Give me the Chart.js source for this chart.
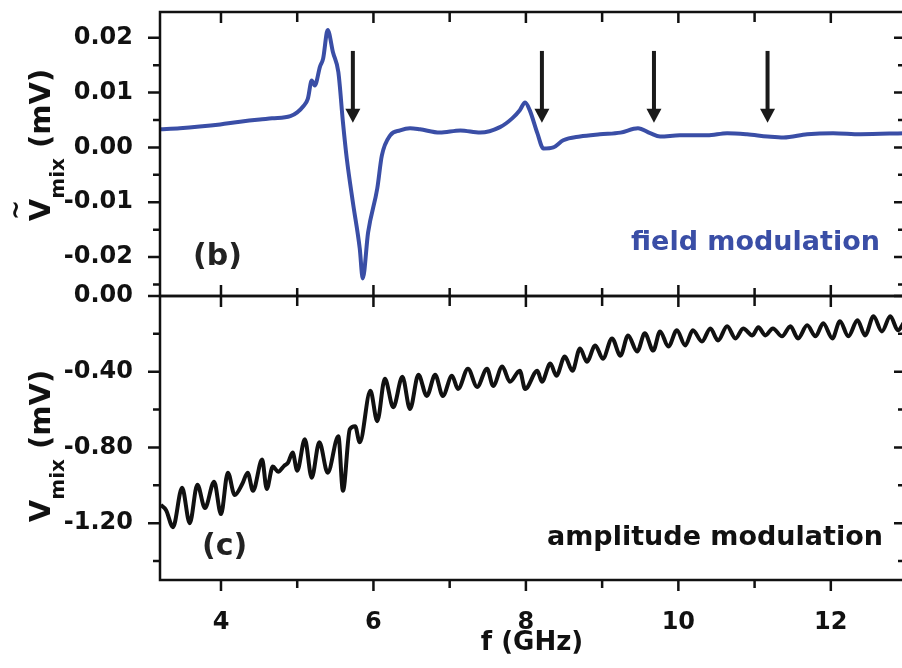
<!DOCTYPE html>
<html>
<head>
<meta charset="utf-8">
<script src="https://cdn.jsdelivr.net/npm/chart.js@4.4.0/dist/chart.umd.min.js"></script>
<style>
  html, body { margin: 0; padding: 0; background: #fff; overflow: hidden; width: 902px; height: 668px; }
  canvas { position: absolute; left: 0; }
  #chart-field { top: 0; }
  #chart-amp { top: 270px; }
</style>
</head>
<body>
<canvas id="chart-field" width="904" height="300"></canvas>
<canvas id="chart-amp" width="904" height="398"></canvas>
<script>
// ---------- data ----------
// (b) field modulation
const fieldF = [3.20, 3.46, 3.72, 3.99, 4.25, 4.51, 4.67, 4.91, 5.00, 5.08, 5.14, 5.19, 5.23, 5.30, 5.34, 5.40,
  5.47, 5.54, 5.60, 5.65, 5.73, 5.82, 5.86, 5.93, 6.05, 6.11, 6.22, 6.35, 6.48, 6.61, 6.87, 7.14, 7.40, 7.66,
  7.82, 7.92, 7.99, 8.05, 8.15, 8.23, 8.36, 8.49, 8.71, 8.97, 9.24, 9.47, 9.63, 9.76, 10.02, 10.38, 10.64,
  10.90, 11.17, 11.38, 11.69, 12.03, 12.39, 12.96];
const fieldV = [0.0033, 0.0035, 0.0038, 0.0042, 0.0047, 0.0051, 0.0053, 0.0057, 0.0064, 0.0075, 0.0089, 0.0122,
  0.0113, 0.0148, 0.0162, 0.0214, 0.0173, 0.0137, 0.0046, -0.0020, -0.0100, -0.0184, -0.0239, -0.0155, -0.0075,
  -0.0015, 0.0022, 0.0031, 0.0035, 0.0033, 0.0027, 0.0031, 0.0027, 0.0037, 0.0053, 0.0068, 0.0082, 0.0068,
  0.0026, -0.0002, 0.0000, 0.0013, 0.0020, 0.0024, 0.0027, 0.0035, 0.0026, 0.0020, 0.0022, 0.0022, 0.0026,
  0.0024, 0.0020, 0.0018, 0.0024, 0.0026, 0.0024, 0.0026];
// arrows marking the modes (GHz)
const arrowF = [5.73, 8.21, 9.68, 11.17];

// (c) amplitude modulation
const ampF = [3.21, 3.28, 3.37, 3.49, 3.59, 3.69, 3.79, 3.91, 4.00, 4.09, 4.18, 4.28, 4.35, 4.42, 4.54, 4.60,
  4.68, 4.75, 4.83, 4.88, 4.94, 5.00, 5.10, 5.19, 5.29, 5.40, 5.54, 5.60, 5.69, 5.76, 5.82, 5.96, 6.05, 6.15,
  6.26, 6.38, 6.48, 6.59, 6.70, 6.81, 6.91, 7.03, 7.11, 7.24, 7.36, 7.49, 7.57, 7.69, 7.79, 7.92, 7.99, 8.15,
  8.21, 8.32, 8.40, 8.51, 8.61, 8.71, 8.80, 8.91, 9.01, 9.13, 9.24, 9.34, 9.46, 9.56, 9.67, 9.76, 9.87, 9.98,
  10.09, 10.19, 10.31, 10.42, 10.52, 10.64, 10.75, 10.85, 10.97, 11.05, 11.14, 11.24, 11.36, 11.47, 11.57,
  11.69, 11.80, 11.90, 12.02, 12.12, 12.23, 12.35, 12.45, 12.56, 12.67, 12.78, 12.88, 12.96];
const ampV = [-1.104, -1.131, -1.221, -1.013, -1.200, -0.997, -1.120, -0.981, -1.152, -0.933, -1.051, -0.992,
  -0.933, -1.029, -0.864, -1.019, -0.901, -0.928, -0.896, -0.880, -0.827, -0.923, -0.757, -0.960, -0.773,
  -0.933, -0.741, -1.029, -0.704, -0.688, -0.773, -0.501, -0.661, -0.437, -0.587, -0.427, -0.597, -0.416,
  -0.528, -0.416, -0.528, -0.421, -0.491, -0.384, -0.480, -0.384, -0.475, -0.373, -0.453, -0.395, -0.491,
  -0.395, -0.453, -0.357, -0.421, -0.320, -0.395, -0.277, -0.347, -0.261, -0.331, -0.224, -0.315, -0.208,
  -0.293, -0.197, -0.288, -0.187, -0.267, -0.181, -0.261, -0.181, -0.240, -0.171, -0.235, -0.160, -0.224,
  -0.171, -0.208, -0.165, -0.208, -0.171, -0.213, -0.160, -0.224, -0.155, -0.213, -0.144, -0.224, -0.133,
  -0.213, -0.128, -0.208, -0.107, -0.187, -0.107, -0.181, -0.140];

// ticks
const xMajor = [4, 6, 8, 10, 12];
const xMinor = [5, 7, 9, 11];
const fieldMajor = [-0.02, -0.01, 0, 0.01, 0.02];
const fieldMinor = [-0.025, -0.015, -0.005, 0.005, 0.015];
const ampMajor = [-1.2, -0.8, -0.4, 0];
const ampMinor = [-1.4, -1.0, -0.6, -0.2];

const F_MIN = 3.2, F_MAX = 12.96;
const BLUE = '#3a4ea6';
const INK = '#111';
const FONT = '"DejaVu Sans", sans-serif';

Chart.defaults.font.family = FONT;
Chart.defaults.font.weight = 'bold';
Chart.defaults.color = INK;

const pts = (xs, ys) => xs.map((x, i) => ({ x: x, y: ys[i] }));
const fmt2 = (v) => (Math.abs(v) < 1e-9 ? 0 : v).toFixed(2);

// ---------- frame + tick marks (inward / outward like Origin) ----------
const framePlugin = {
  id: 'frame',
  afterDatasetsDraw(chart, args, o) {
    const { ctx, chartArea: a } = chart;
    const xs = chart.scales.x, ys = chart.scales.y;
    ctx.save();
    ctx.strokeStyle = INK;
    ctx.lineWidth = 2.5;
    ctx.strokeRect(a.left, a.top, a.right - a.left, a.bottom - a.top);
    ctx.beginPath();
    const seg = (x1, y1, x2, y2) => { ctx.moveTo(x1, y1); ctx.lineTo(x2, y2); };
    o.yMajor.forEach((v) => { const p = ys.getPixelForValue(v); seg(a.left - 12, p, a.left, p); seg(a.right, p, a.right - 10, p); });
    o.yMinor.forEach((v) => { const p = ys.getPixelForValue(v); seg(a.left - 7, p, a.left, p); seg(a.right, p, a.right - 6, p); });
    xMajor.forEach((v) => {
      const p = xs.getPixelForValue(v);
      seg(p, a.top, p, a.top + 11);
      seg(p, a.bottom, p, a.bottom + o.bottomDir * 11);
    });
    xMinor.forEach((v) => {
      const p = xs.getPixelForValue(v);
      seg(p, a.top, p, a.top + 10);
      seg(p, a.bottom, p, a.bottom + o.bottomDir * 8);
    });
    ctx.stroke();
    ctx.restore();
  },
};

// ---------- texts: y title with subscript, panel letters, arrows ----------
function drawYTitle(ctx, cx, cy, tilde) {
  ctx.save();
  ctx.translate(cx, cy);
  ctx.rotate(-Math.PI / 2);
  ctx.fillStyle = INK;
  ctx.textBaseline = 'alphabetic';
  ctx.textAlign = 'left';
  const big = 'bold 29px ' + FONT, small = 'bold 20px ' + FONT;
  ctx.font = big;
  const wV = ctx.measureText('V').width;
  const wR = ctx.measureText(' (mV)').width;
  ctx.font = small;
  const wS = ctx.measureText('mix').width;
  let x = -(wV + wS + wR) / 2;
  ctx.font = big;
  ctx.fillText('V', x, 0);
  if (tilde) {
    ctx.font = 'bold 24px ' + FONT;
    ctx.textAlign = 'center';
    ctx.fillText('~', x + wV / 2, -26);
    ctx.textAlign = 'left';
  }
  x += wV;
  ctx.font = small;
  ctx.fillText('mix', x, 14);
  x += wS;
  ctx.font = big;
  ctx.fillText(' (mV)', x, 0);
  ctx.restore();
}

const notesPlugin = {
  id: 'notes',
  afterDraw(chart, args, o) {
    const { ctx } = chart;
    ctx.save();
    drawYTitle(ctx, 50, o.titleY, o.tilde);
    ctx.textBaseline = 'middle';
    (o.texts || []).forEach((t) => {
      ctx.font = 'bold ' + t.size + 'px ' + FONT;
      ctx.fillStyle = t.color;
      ctx.textAlign = t.align;
      ctx.fillText(t.text, t.x, t.y);
    });
    if (o.arrows) {
      const xs = chart.scales.x, ys = chart.scales.y;
      ctx.strokeStyle = '#1a1a1a';
      ctx.fillStyle = '#1a1a1a';
      ctx.lineWidth = 4;
      o.arrows.forEach((f) => {
        const px = xs.getPixelForValue(f);
        const y0 = ys.getPixelForValue(0.0176);
        const y1 = ys.getPixelForValue(0.0045);
        ctx.beginPath();
        ctx.moveTo(px, y0);
        ctx.lineTo(px, y1 - 10);
        ctx.stroke();
        ctx.beginPath();
        ctx.moveTo(px - 7.5, y1 - 14);
        ctx.lineTo(px + 7.5, y1 - 14);
        ctx.lineTo(px, y1);
        ctx.closePath();
        ctx.fill();
      });
    }
    ctx.restore();
  },
};

function yScale(min, max, major) {
  return {
    type: 'linear', min: min, max: max,
    grid: { display: false }, border: { display: false },
    afterBuildTicks: (s) => { s.ticks = major.map((v) => ({ value: v })); },
    afterFit: (s) => { s.width = 160; s.paddingTop = 0; s.paddingBottom = 0; },
    ticks: { padding: 19, color: INK, font: { size: 24, weight: 'bold', lineHeight: 1 }, callback: fmt2 },
  };
}

// ---------- (b) field modulation ----------
new Chart(document.getElementById('chart-field'), {
  type: 'line',
  data: {
    datasets: [{ data: pts(fieldF, fieldV), borderColor: BLUE, borderWidth: 4, pointRadius: 0,
      cubicInterpolationMode: 'monotone' }],
  },
  options: {
    responsive: false, animation: false, devicePixelRatio: 1,
    layout: { padding: { top: 12, bottom: 4, left: 0, right: 0 } },
    plugins: {
      legend: { display: false }, tooltip: { enabled: false },
      frame: { yMajor: fieldMajor, yMinor: fieldMinor, bottomDir: -1 },
      notes: {
        titleY: 145, tilde: true, arrows: arrowF,
        texts: [
          { text: '(b)', x: 193, y: 257, size: 30, color: '#222', align: 'left' },
          { text: 'field modulation', x: 880, y: 243, size: 27, color: BLUE, align: 'right' },
        ],
      },
    },
    scales: {
      x: { type: 'linear', min: F_MIN, max: F_MAX, display: false },
      y: yScale(-0.0271, 0.0247, fieldMajor),
    },
  },
  plugins: [framePlugin, notesPlugin],
});

// ---------- (c) amplitude modulation ----------
new Chart(document.getElementById('chart-amp'), {
  type: 'line',
  data: {
    datasets: [{ data: pts(ampF, ampV), borderColor: INK, borderWidth: 4, pointRadius: 0,
      cubicInterpolationMode: 'monotone' }],
  },
  options: {
    responsive: false, animation: false, devicePixelRatio: 1,
    layout: { padding: { top: 26, bottom: 0, left: 0, right: 0 } },
    plugins: {
      legend: { display: false }, tooltip: { enabled: false },
      frame: { yMajor: ampMajor, yMinor: ampMinor, bottomDir: 1 },
      notes: {
        titleY: 176, tilde: false,
        texts: [
          { text: '(c)', x: 202, y: 277, size: 30, color: '#222', align: 'left' },
          { text: 'amplitude modulation', x: 883, y: 268, size: 27, color: INK, align: 'right' },
        ],
      },
    },
    scales: {
      x: {
        type: 'linear', min: F_MIN, max: F_MAX,
        grid: { display: false }, border: { display: false },
        afterBuildTicks: (s) => { s.ticks = xMajor.map((v) => ({ value: v })); },
        afterFit: (s) => { s.height = 88; s.paddingLeft = 0; s.paddingRight = 0; },
        ticks: { padding: 20, color: INK, maxRotation: 0, font: { size: 24, weight: 'bold' } },
        title: { display: true, text: 'f (GHz)', color: INK, font: { size: 26, weight: 'bold' },
          padding: { top: 0, bottom: 9 } },
      },
      y: yScale(-1.5, 0, ampMajor),
    },
  },
  plugins: [framePlugin, notesPlugin],
});
</script>
</body>
</html>
